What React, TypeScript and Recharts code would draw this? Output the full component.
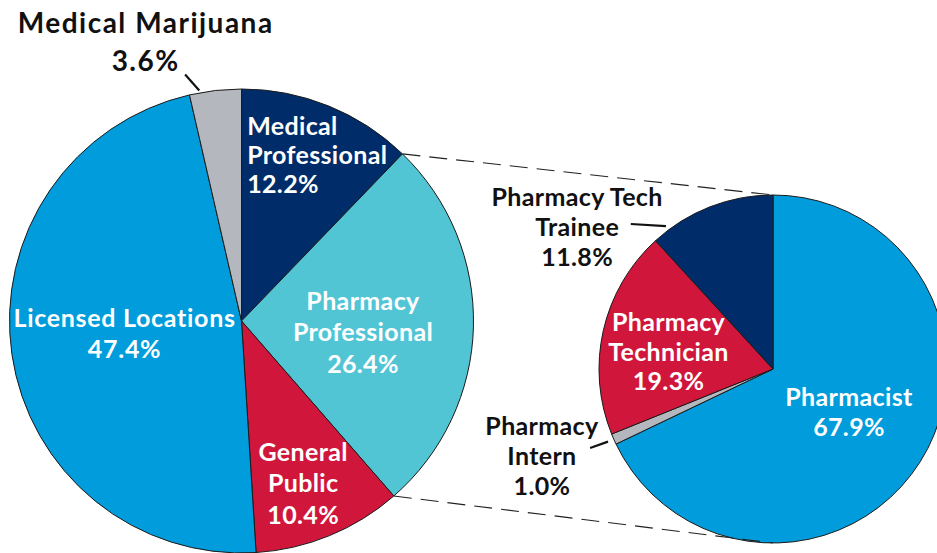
import { Cell, Pie, PieChart } from "recharts";

// Share of reports by source (left) and breakdown of the pharmacy slice (right).
const sourceNames = [
  "Medical Professional",
  "Pharmacy Professional",
  "General Public",
  "Licensed Locations",
  "Medical Marijuana",
];
const sourceShares = [12.2, 26.4, 10.4, 47.4, 3.6];
const sourceLabelLines = [
  ["Medical", "Professional"],
  ["Pharmacy", "Professional"],
  ["General", "Public"],
  ["Licensed Locations"],
  ["Medical Marijuana"],
];

const pharmacyNames = [
  "Pharmacist",
  "Pharmacy Intern",
  "Pharmacy Technician",
  "Pharmacy Tech Trainee",
];
const pharmacyShares = [67.9, 1.0, 19.3, 11.8];
const pharmacyLabelLines = [
  ["Pharmacist"],
  ["Pharmacy", "Intern"],
  ["Pharmacy", "Technician"],
  ["Pharmacy Tech", "Trainee"],
];

const NAVY = "#002d69";
const CYAN = "#52c5d5";
const RED = "#d0173b";
const BLUE = "#009cdb";
const GREY = "#b4b7be";

const sourceColors = [NAVY, CYAN, RED, BLUE, GREY];
const pharmacyColors = [BLUE, GREY, RED, NAVY];

const FONT = "Lato, 'Noto Sans', sans-serif";

const MAIN = { cx: 241.5, cy: 321, r: 232 };
const DETAIL = { cx: 773, cy: 369, r: 174 };
const EXPLODED_INDEX = 1; // "Pharmacy Professional" is broken out on the right

interface LabelStyle {
  k: number; // radius factor for the text block centre
  da: number; // angle nudge from the slice mid angle
  anchor: "start" | "middle" | "end";
  lineHeight: number;
  outside: boolean;
  size?: number;
  spacing?: number;
  leader?: { k1: number; a1: number; k2: number; a2: number };
}

const BASE_SIZE = 25;
const BASE_SPACING = 0.35;

const sourceLabelStyle: LabelStyle[] = [
  { k: 0.714, da: 20, anchor: "start", lineHeight: 29, outside: false },
  { k: 0.526, da: -4, anchor: "middle", lineHeight: 31.5, outside: false },
  { k: 0.751, da: -1.6, anchor: "middle", lineHeight: 31.5, outside: false },
  { k: 0.507, da: -2, anchor: "middle", lineHeight: 31, outside: false, spacing: 0.7 },
  {
    k: 1.27,
    da: 12.5,
    anchor: "middle",
    lineHeight: 38,
    outside: true,
    size: 28,
    spacing: 1.5,
    leader: { k1: 1.09, a1: 6.4, k2: 1.01, a2: 3.9 },
  },
];

const pharmacyLabelStyle: LabelStyle[] = [
  { k: 0.503, da: 2.5, anchor: "middle", lineHeight: 30.5, outside: false },
  {
    k: 1.42,
    da: -3,
    anchor: "middle",
    lineHeight: 30,
    outside: true,
    leader: { k1: 1.145, a1: -0.4, k2: 1.036, a2: 0 },
  },
  { k: 0.608, da: 3.8, anchor: "middle", lineHeight: 29.5, outside: false },
  {
    k: 1.387,
    da: 33,
    anchor: "middle",
    lineHeight: 30,
    outside: true,
    leader: { k1: 1.167, a1: 23.2, k2: 1.026, a2: 15.6 },
  },
];

const RAD = Math.PI / 180;
function polar(cx: number, cy: number, r: number, angle: number) {
  return { x: cx + r * Math.cos(-angle * RAD), y: cy + r * Math.sin(-angle * RAD) };
}

function buildRows(names: string[], shares: number[]) {
  return names.map((name, i) => ({ name, value: shares[i] }));
}

function makeLabel(lines: string[][], styles: LabelStyle[], withConnectors: boolean) {
  return (props: any) => {
    const { cx, cy, outerRadius, midAngle, startAngle, endAngle, index, value } = props;
    const st = styles[index];
    const size = st.size ?? BASE_SIZE;
    const c = polar(cx, cy, outerRadius * st.k, midAngle + st.da);
    const textLines = [...lines[index], `${Number(value).toFixed(1)}%`];
    const n = textLines.length;
    const fill = st.outside ? "#111" : "#fff";
    let connectors = null;
    if (withConnectors && index === EXPLODED_INDEX) {
      const a = polar(cx, cy, outerRadius, startAngle);
      const b = polar(cx, cy, outerRadius, endAngle);
      connectors = (
        <g stroke="#222" strokeWidth={1.1} strokeDasharray="18 9" fill="none">
          <line x1={a.x} y1={a.y} x2={DETAIL.cx} y2={DETAIL.cy - DETAIL.r} />
          <line x1={b.x} y1={b.y} x2={DETAIL.cx} y2={DETAIL.cy + DETAIL.r} />
        </g>
      );
    }
    let leader = null;
    if (st.leader) {
      const p1 = polar(cx, cy, outerRadius * st.leader.k1, midAngle + st.leader.a1);
      const p2 = polar(cx, cy, outerRadius * st.leader.k2, midAngle + st.leader.a2);
      leader = <line x1={p1.x} y1={p1.y} x2={p2.x} y2={p2.y} stroke="#111" strokeWidth={2.2} />;
    }
    return (
      <g>
        {connectors}
        {leader}
        <text
          textAnchor={st.anchor}
          fill={fill}
          fontFamily={FONT}
          fontWeight={700}
          fontSize={size}
          letterSpacing={st.spacing ?? BASE_SPACING}
        >
          {textLines.map((t, i) => (
            <tspan key={i} x={c.x} y={c.y + (i - (n - 1) / 2) * st.lineHeight + size * 0.34}>
              {t}
            </tspan>
          ))}
        </text>
      </g>
    );
  };
}

export default function App() {
  const sourceRows = buildRows(sourceNames, sourceShares);
  const pharmacyRows = buildRows(pharmacyNames, pharmacyShares);
  return (
    <div style={{ position: "absolute", left: 0, top: 0, width: 937, height: 553, background: "#fff" }}>
      <style>{`body{margin:0}`}</style>
      <PieChart width={937} height={553} margin={{ top: 0, right: 0, bottom: 0, left: 0 }}>
        <Pie
          data={sourceRows}
          dataKey="value"
          nameKey="name"
          cx={MAIN.cx}
          cy={MAIN.cy}
          outerRadius={MAIN.r}
          startAngle={90}
          endAngle={-270}
          stroke="#1a1a1a"
          strokeWidth={1}
          labelLine={false}
          label={makeLabel(sourceLabelLines, sourceLabelStyle, true)}
          isAnimationActive={false}
        >
          {sourceRows.map((r, i) => (
            <Cell key={r.name} fill={sourceColors[i]} />
          ))}
        </Pie>
        <Pie
          data={pharmacyRows}
          dataKey="value"
          nameKey="name"
          cx={DETAIL.cx}
          cy={DETAIL.cy}
          outerRadius={DETAIL.r}
          startAngle={90}
          endAngle={-270}
          stroke="#1a1a1a"
          strokeWidth={1}
          labelLine={false}
          label={makeLabel(pharmacyLabelLines, pharmacyLabelStyle, false)}
          isAnimationActive={false}
        >
          {pharmacyRows.map((r, i) => (
            <Cell key={r.name} fill={pharmacyColors[i]} />
          ))}
        </Pie>
      </PieChart>
    </div>
  );
}
